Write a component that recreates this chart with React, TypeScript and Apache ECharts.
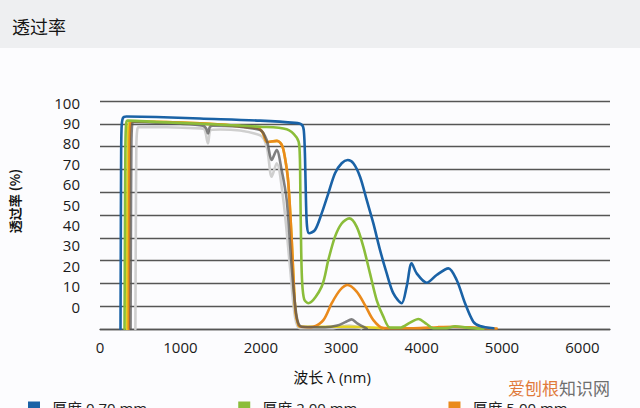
import React, { useEffect, useRef } from "react";
import * as echarts from "echarts";

// ---- data (wavelength nm, transmittance %) ----
const xTicks = [0, 1000, 2000, 3000, 4000, 5000, 6000];
const yTicks = [0, 10, 20, 30, 40, 50, 60, 70, 80, 90, 100];
const legendNames = ["厚度 0.70 mm", "厚度 2.00 mm", "厚度 5.00 mm"];

const t070: [number, number][] = [
  [255, 0], [258, 30], [262, 70], [268, 88], [285, 92.5], [330, 93.2], [700, 93], [1244, 92.3],
  [1990, 91.4], [2425, 90.4], [2510, 89.6], [2535, 87], [2550, 75], [2562, 56], [2575, 45],
  [2600, 42], [2674, 43.4], [2757, 50.7], [2840, 59.5], [2923, 68.3], [3006, 72.7], [3081, 74.1],
  [3151, 72.7], [3234, 66.8], [3317, 56.6], [3400, 46.3], [3483, 34.6], [3566, 24.4], [3649, 15.6],
  [3752, 11.3], [3814, 18.6], [3876, 28.8], [3939, 24.4], [4063, 20.3], [4187, 23.7], [4333, 26.6],
  [4436, 21.5], [4540, 11.3], [4643, 3.2], [4726, 1.3], [4892, 0.3],
];

const t200: [number, number][] = [
  [305, 0], [310, 40], [316, 80], [325, 90], [345, 91.4], [700, 90.8], [1244, 90], [1990, 88.7],
  [2322, 87.6], [2446, 84], [2480, 80], [2492, 60], [2502, 35], [2515, 20], [2540, 13], [2591, 11.3],
  [2757, 18.6], [2840, 30.3], [2923, 40.5], [3006, 46.3], [3101, 48.5], [3192, 44.9], [3275, 36.1],
  [3358, 24.4], [3441, 12.7], [3524, 5.4], [3607, 0.6], [3731, 0.6], [3856, 2.8], [3959, 4.4],
  [4063, 2.2], [4146, 0.3], [4312, 0.4], [4415, 1.2], [4561, 0.6], [4768, 0],
];

const t500: [number, number][] = [
  [358, 0], [362, 40], [368, 80], [378, 90], [400, 91], [1244, 90.2], [1965, 88], [2027, 86],
  [2077, 82], [2201, 82.5], [2264, 80.5], [2301, 75], [2340, 65], [2380, 42], [2430, 8], [2470, 1.5],
  [2500, 1], [2580, 0.8], [2653, 1], [2778, 3.9], [2882, 11.3], [2986, 17.1], [3081, 19.3],
  [3192, 16.4], [3296, 10.5], [3400, 3.9], [3524, 0.4], [3900, 0.3], [4200, 0.8], [4400, 1],
  [4700, 0.5], [4934, 0.2],
];

const tYellow: [number, number][] = [
  [335, 0], [339, 40], [346, 80], [356, 90], [390, 91], [1244, 90.2], [1965, 88], [2027, 86],
  [2077, 82], [2201, 82.5], [2264, 80.5], [2301, 75], [2340, 65], [2380, 42], [2430, 8], [2470, 1.5],
  [2500, 1], [2653, 1], [3081, 1], [3524, 0.4],
];

const tDark: [number, number][] = [
  [380, 0], [384, 40], [390, 80], [400, 90], [420, 90.8], [1000, 90], [1280, 89.2], [1320, 88],
  [1343, 85.8], [1365, 88.5], [1400, 89.2], [1990, 87.3], [2073, 82.9], [2135, 74.1], [2197, 78.5],
  [2259, 69.7], [2322, 56.6], [2384, 27.3], [2446, 5.4], [2508, 1], [2800, 0.8], [2950, 1.5],
  [3050, 3], [3130, 4.2], [3200, 2.5], [3317, 0.2],
];

const tLight: [number, number][] = [
  [440, 0], [445, 40], [452, 80], [462, 87], [480, 88.6], [1244, 88], [1300, 87.5], [1343, 81.4],
  [1380, 87.3], [1500, 87.5], [1990, 85], [2073, 80], [2135, 66.8], [2197, 72.7], [2280, 56.6],
  [2363, 27.3], [2425, 5.4], [2488, 0.3], [2900, 0.4], [3100, 1.5], [3250, 0.3],
];

const FONT = '"Open Sans", "Noto Sans CJK SC", sans-serif';

function line(name: string, data: [number, number][], color: string, z: number, opacity = 1) {
  return {
    name,
    type: "line",
    data,
    smooth: 0.3,
    showSymbol: false,
    symbol: "none",
    z,
    lineStyle: { color, width: 2.6, opacity, join: "round", cap: "round" },
    itemStyle: { color },
  };
}

export default function App() {
  const ref = useRef<HTMLDivElement>(null);
  useEffect(() => {
    if (!ref.current) return;
    const chart = echarts.init(ref.current, undefined, { renderer: "svg" });
    chart.setOption({
      animation: false,
      backgroundColor: "#fcfcfe",
      grid: { left: 100, right: 30, top: 101, bottom: 79, containLabel: false },
      xAxis: {
        type: "value",
        min: 0,
        max: 6343,
        axisLine: { show: true, lineStyle: { color: "#555", width: 1.3 } },
        axisTick: { show: false },
        splitLine: { show: false },
        axisLabel: {
          customValues: xTicks,
          formatter: (v: number) => String(v),
          margin: 10,
          color: "#1a1a1a",
          fontSize: 15,
          fontFamily: FONT,
        },
      },
      yAxis: [
        {
          type: "value",
          min: 0,
          max: 100,
          interval: 10,
          position: "left",
          axisLine: { show: false },
          axisTick: { show: false },
          axisLabel: { show: false },
          splitLine: { show: true, lineStyle: { color: "#555", width: 1.3 } },
        },
        {
          type: "value",
          min: -10.93,
          max: 100.83,
          position: "left",
          offset: 0,
          axisLine: { show: false },
          axisTick: { show: false },
          splitLine: { show: false },
          axisLabel: {
            customValues: yTicks,
            formatter: (v: number) => String(v),
            margin: 20,
            color: "#1a1a1a",
            fontSize: 15,
            fontFamily: FONT,
          },
        },
      ],
      legend: {
        data: legendNames,
        left: 28,
        top: 400,
        padding: 0,
        icon: "rect",
        itemWidth: 12,
        itemHeight: 12,
        itemGap: 91,
        textStyle: { padding: [0, 0, 0, 7], fontSize: 15, color: "#222", fontFamily: FONT },
      },
      graphic: [
        { type: "rect", left: 0, top: 0, shape: { x: 0, y: 0, width: 640, height: 48 }, style: { fill: "#eeeff1" }, silent: true },
        {
          type: "text", x: 12, y: 26,
          style: { text: "透过率", fill: "#151515", font: '18px "Noto Sans CJK SC", sans-serif', verticalAlign: "middle" },
        },
        {
          type: "text", x: 14, y: 201, rotation: Math.PI / 2,
          style: { text: "透过率 (%)", fill: "#151515", font: 'bold 13px "Noto Sans CJK SC", sans-serif', align: "center", verticalAlign: "middle" },
        },
        {
          type: "text", x: 332, y: 377,
          style: { text: "波长 λ (nm)", fill: "#151515", font: '15px "Open Sans", "Noto Sans CJK SC", sans-serif', align: "center", verticalAlign: "middle" },
        },
        {
          type: "text", x: 508, y: 387,
          style: {
            text: "{a|爱刨根}{b|知识网}",
            verticalAlign: "middle",
            rich: {
              a: { fill: "#e07a3a", font: '17px "Noto Sans CJK SC", sans-serif' },
              b: { fill: "#6f6f6f", font: '17px "Noto Sans CJK SC", sans-serif' },
            },
          },
        },
      ],
      series: [
        line("厚度 0.70 mm", t070, "#1a62a6", 10),
        line("厚度 2.00 mm", t200, "#8bbd3a", 9),
        line("厚度 5.00 mm", t500, "#ea8a1c", 7),
        line("厚度 3.00 mm", tYellow, "#e3d321", 6),
        line("厚度 10.00 mm", tDark, "#555555", 8, 0.75),
        line("厚度 20.00 mm", tLight, "#cfcfcf", 5),
      ],
    });
    return () => chart.dispose();
  }, []);
  return <div ref={ref} style={{ position: "absolute", left: 0, top: 0, width: 640, height: 408 }} />;
}
